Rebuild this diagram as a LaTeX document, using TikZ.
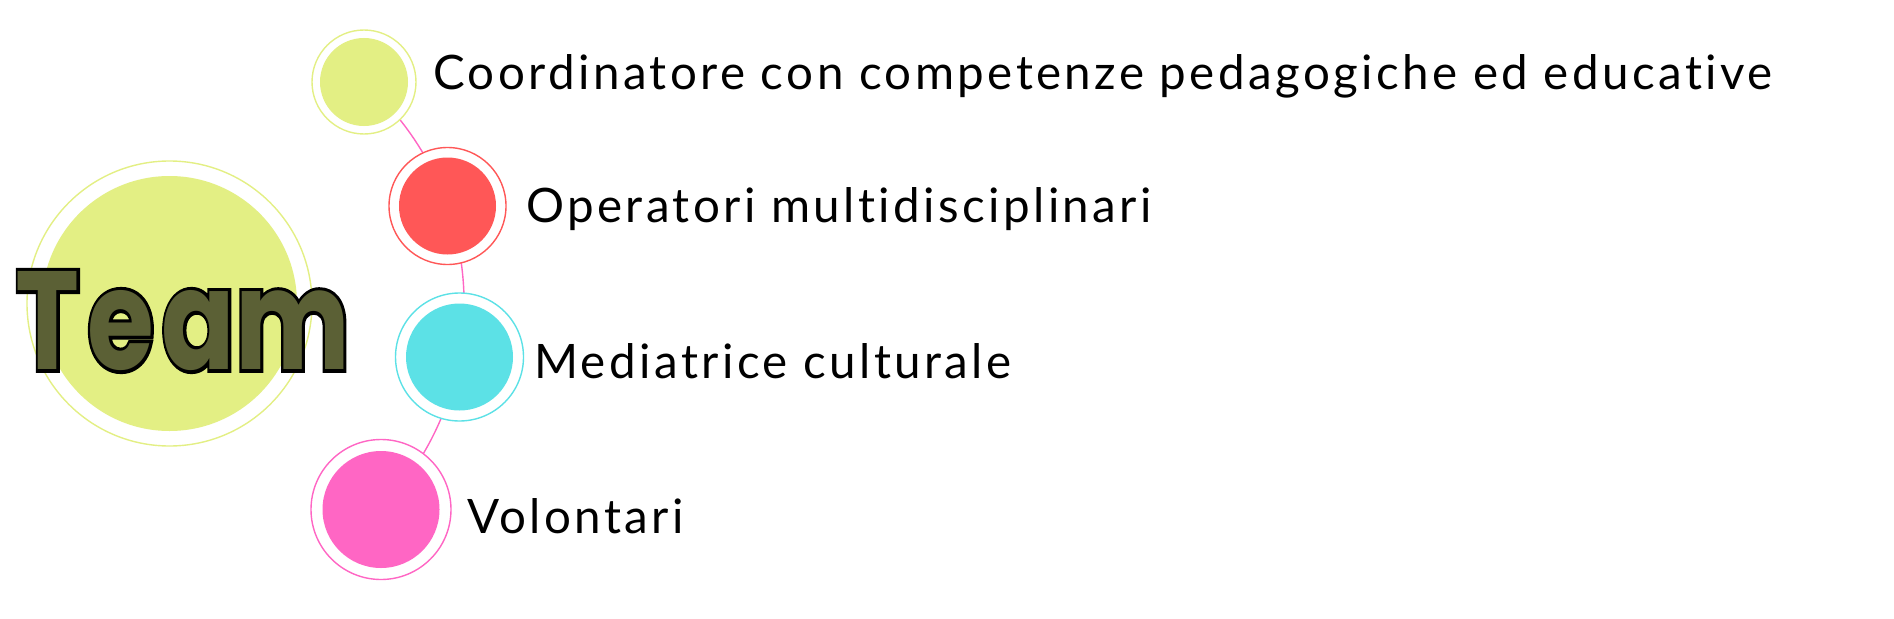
\documentclass[tikz,border=0pt]{standalone}
\usepackage{fontspec}
\usepackage{graphicx}
\setmainfont{Lato}
\newfontfamily\labelfont[LetterSpace=7.2, Ligatures={NoCommon,NoDiscretionary,NoRare}]{Lato}
\newfontfamily\teamfont{Poppins}[LetterSpace=7]
\newfontfamily\teamoutline{Poppins}[LetterSpace=7, BoldFeatures={FakeBold=5}]
\definecolor{lime}{HTML}{E3EF84}
\definecolor{coral}{HTML}{FF5757}
\definecolor{aqua}{HTML}{5CE1E6}
\definecolor{rose}{HTML}{FF66C4}
\definecolor{scribble}{HTML}{5B6035}
\pgfdeclarelayer{background}
\pgfsetlayers{background,main}
\tikzset{
  ring/.style n args={3}{circle, draw=#1, line width=1.4pt, fill=white, inner sep=0pt,
    minimum size=#2,
    path picture={\fill[#1] (path picture bounding box.center) circle (#3);}},
  conn/.style={draw=rose, line width=1.4pt},
  lbl/.style={anchor=base west, inner sep=0pt, font=\labelfont\fontsize{47.5}{57}\selectfont}
}
\begin{document}
\begin{tikzpicture}[x=1pt,y=-1pt]
\useasboundingbox (0,0) rectangle (1894,618);
% Team circle
\node[ring={lime}{285}{127.5}] (teamc) at (169.5,303.5) {};
\node[inner sep=0pt] (team) at (183,321)
  {\resizebox{334pt}{98pt}{\rlap{\color{black}\teamoutline\bfseries Tea\kern0ptm}{\color{scribble}\teamfont\bfseries Tea\kern0ptm}}};
% member circles
\node[ring={lime}{104}{44}] (c1) at (364,82) {};
\node[ring={coral}{117}{48.5}] (c2) at (447.5,206) {};
\node[ring={aqua}{128}{53.5}] (c3) at (459.5,357) {};
\node[ring={rose}{140}{58.5}] (c4) at (381,509.5) {};
% connectors: arcs of the circle of radius 295 round the Team circle
\begin{pgfonlayer}{background}
\draw[conn] (c1.center) arc[start angle=-48.7, end angle=-19.3, radius=295];
\draw[conn] (c2.center) arc[start angle=-19.3, end angle=10.45, radius=295];
\draw[conn] (c3.center) arc[start angle=10.45, end angle=44.2, radius=295];
\end{pgfonlayer}
% labels
\node[lbl] (l1) at (433,89) {Coordinatore con competenze pedagogiche ed educative};
\node[lbl] (l2) at (526,222) {Operatori multidisciplinari};
\node[lbl] (l3) at (534,378) {Mediatrice culturale};
\node[lbl] (l4) at (467,533) {Volontari};
\end{tikzpicture}
\end{document}
